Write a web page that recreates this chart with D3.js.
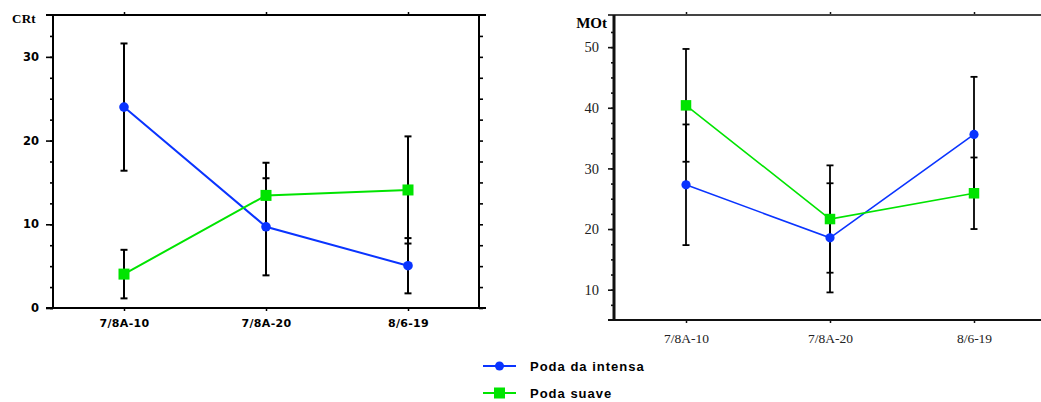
<!DOCTYPE html>
<html>
<head>
<meta charset="utf-8">
<script src="https://cdn.jsdelivr.net/npm/d3@7"></script>
<style>
  html, body { margin: 0; padding: 0; background: #fff; }
  svg { display: block; }
</style>
</head>
<body>
<svg id="chart" width="1041" height="402"></svg>
<script>
// Sampling dates shared by both panels
const categories = ["7/8A-10", "7/8A-20", "8/6-19"];

// CRt panel: means and error half-widths
const crtIntensa = [24.0, 9.7, 5.05];
const crtIntensaErr = [7.6, 5.8, 3.3];
const crtSuave = [4.05, 13.45, 14.1];
const crtSuaveErr = [2.9, 3.9, 6.4];

// MOt panel: means and error half-widths
const motIntensa = [27.3, 18.55, 35.6];
const motIntensaErr = [9.95, 9.0, 9.5];
const motSuave = [40.4, 21.65, 25.9];
const motSuaveErr = [9.3, 8.85, 5.9];

// Axis ticks
const crtMajor = [0, 10, 20, 30];
const crtMinor = d3.range(0, 35, 2.5);
const motMajor = [10, 20, 30, 40, 50];
const motMinor = d3.range(7.5, 55, 2.5);

const seriesNames = ["Poda da intensa", "Poda suave"];
const BLUE = "#0a34ff";
const GREEN = "#00e400";

const svg = d3.select("#chart");

function drawPanel(opt) {
  const g = svg.append("g");
  const x = d3.scalePoint().domain(categories).range([opt.x0, opt.x1]).padding(0.5);
  const y = d3.scaleLinear().domain(opt.yDomain).range([opt.y0, opt.y1]);

  // minor ticks on the left axis
  g.append("g")
    .attr("transform", `translate(${opt.x0},0)`)
    .call(d3.axisLeft(y).tickValues(opt.minor).tickSize(opt.minorLen).tickFormat(""))
    .call(s => s.select(".domain").remove())
    .call(s => s.selectAll("line").attr("stroke", opt.axisColor).attr("stroke-width", opt.tickWidth));

  // major ticks with labels
  g.append("g")
    .attr("transform", `translate(${opt.x0},0)`)
    .call(d3.axisLeft(y).tickValues(opt.major).tickSize(opt.majorLen).tickPadding(opt.yPad).tickFormat(d3.format("d")))
    .call(s => s.select(".domain").remove())
    .call(s => s.selectAll("line").attr("stroke", opt.axisColor).attr("stroke-width", opt.tickWidth))
    .call(s => s.selectAll("text").attr("fill", opt.textColor)
      .style("font", opt.yFont));

  // right-hand ticks (outward)
  if (opt.rightTicks) {
    g.append("g")
      .attr("transform", `translate(${opt.x1},0)`)
      .call(d3.axisRight(y).tickValues(opt.minor).tickSize(4).tickFormat(""))
      .call(s => s.select(".domain").remove())
      .call(s => s.selectAll("line").attr("stroke", opt.axisColor).attr("stroke-width", opt.tickWidth));
  }

  // bottom axis with category labels
  g.append("g")
    .attr("transform", `translate(0,${opt.y0})`)
    .call(d3.axisBottom(x).tickSize(3).tickPadding(opt.xPad))
    .call(s => s.select(".domain").remove())
    .call(s => s.selectAll("line").attr("stroke", opt.axisColor).attr("stroke-width", 1.5))
    .call(s => s.selectAll("text").attr("fill", opt.textColor)
      .style("font", opt.xFont).style("letter-spacing", opt.xSpacing || "0px"));

  // top axis ticks
  g.append("g")
    .attr("transform", `translate(0,${opt.y1})`)
    .call(d3.axisTop(x).tickSize(3).tickFormat(""))
    .call(s => s.select(".domain").remove())
    .call(s => s.selectAll("line").attr("stroke", opt.axisColor).attr("stroke-width", 1.5));

  // frame lines
  const frame = g.append("g").attr("fill", "none");
  frame.append("line").attr("x1", opt.x0 - opt.overhang).attr("x2", opt.x1 + opt.overhang)
    .attr("y1", opt.y1).attr("y2", opt.y1).attr("stroke", opt.frameColor).attr("stroke-width", opt.frameWidth);
  frame.append("line").attr("x1", opt.x0 - opt.overhang).attr("x2", opt.x1 + opt.overhang)
    .attr("y1", opt.y0).attr("y2", opt.y0).attr("stroke", opt.axisColor).attr("stroke-width", opt.frameWidth);
  frame.append("line").attr("x1", opt.x0).attr("x2", opt.x0)
    .attr("y1", opt.y1).attr("y2", opt.y0).attr("stroke", opt.axisColor).attr("stroke-width", opt.leftWidth);
  frame.append("line").attr("x1", opt.x1).attr("x2", opt.x1)
    .attr("y1", opt.y1).attr("y2", opt.y0).attr("stroke", opt.axisColor).attr("stroke-width", opt.frameWidth);

  // axis title
  g.append("text").attr("x", opt.titleX).attr("y", opt.titleY)
    .attr("text-anchor", "end")
    .style("font", opt.titleFont).style("letter-spacing", opt.titleSpacing || "0px")
    .attr("fill", "#000").text(opt.title);

  const series = [
    { vals: opt.a, err: opt.aErr, color: BLUE, shape: "circle" },
    { vals: opt.b, err: opt.bErr, color: GREEN, shape: "square" }
  ];

  // error bars
  series.forEach(s => {
    const eb = g.append("g").attr("stroke", "#000").attr("stroke-width", opt.errWidth);
    s.vals.forEach((v, i) => {
      const cx = x(categories[i]);
      const yt = y(v + s.err[i]), yb = y(v - s.err[i]);
      eb.append("line").attr("x1", cx).attr("x2", cx).attr("y1", yt).attr("y2", yb);
      [yt, yb].forEach(yy => eb.append("line")
        .attr("x1", cx - opt.cap).attr("x2", cx + opt.cap).attr("y1", yy).attr("y2", yy));
    });
  });

  // series lines
  const line = d3.line().x((d, i) => x(categories[i])).y(d => y(d));
  series.forEach(s => {
    g.append("path").datum(s.vals).attr("d", line)
      .attr("fill", "none").attr("stroke", s.color).attr("stroke-width", opt.lineWidth);
  });

  // markers
  series.forEach(s => {
    s.vals.forEach((v, i) => {
      const cx = x(categories[i]), cy = y(v);
      if (s.shape === "circle") {
        g.append("circle").attr("cx", cx).attr("cy", cy).attr("r", opt.r).attr("fill", s.color);
      } else {
        g.append("rect").attr("x", cx - opt.sq / 2).attr("y", cy - opt.sq / 2)
          .attr("width", opt.sq).attr("height", opt.sq).attr("fill", s.color);
      }
    });
  });
}

// CRt panel
drawPanel({
  x0: 53, x1: 479, y0: 308, y1: 15, yDomain: [0, 35],
  major: crtMajor, minor: crtMinor, majorLen: 7, minorLen: 3, yPad: 7,
  rightTicks: true, overhang: 7,
  axisColor: "#000", frameColor: "#000", textColor: "#000",
  tickWidth: 1.6, frameWidth: 2, leftWidth: 2,
  yFont: "bold 11.5px 'DejaVu Sans'", xFont: "bold 11px 'DejaVu Sans'", xPad: 8, xSpacing: "0.3px",
  title: "CRt", titleX: 36, titleY: 23, titleFont: "bold 13px 'Liberation Serif'", titleSpacing: "0.3px",
  a: crtIntensa, aErr: crtIntensaErr, b: crtSuave, bErr: crtSuaveErr,
  errWidth: 2, cap: 3.5, lineWidth: 2, r: 4.8, sq: 11
});

// MOt panel
drawPanel({
  x0: 614, x1: 1046, y0: 320, y1: 15, yDomain: [5, 55.3],
  major: motMajor, minor: motMinor, majorLen: 6, minorLen: 3, yPad: 9,
  rightTicks: false, overhang: 6,
  axisColor: "#111", frameColor: "#444", textColor: "#222",
  tickWidth: 1.6, frameWidth: 2, leftWidth: 3,
  yFont: "14.5px 'Liberation Serif'", xFont: "13.5px 'Liberation Serif'", xPad: 10,
  title: "MOt", titleX: 607, titleY: 28, titleFont: "bold 15px 'Liberation Serif'",
  a: motIntensa, aErr: motIntensaErr, b: motSuave, bErr: motSuaveErr,
  errWidth: 1.8, cap: 3.5, lineWidth: 1.6, r: 4.6, sq: 10.5
});

// Legend
const legend = svg.append("g").attr("transform", "translate(483,0)");
const legendY = [366, 393];
seriesNames.forEach((name, i) => {
  const color = i === 0 ? BLUE : GREEN;
  const ly = legendY[i];
  legend.append("line").attr("x1", 0).attr("x2", 33).attr("y1", ly).attr("y2", ly)
    .attr("stroke", color).attr("stroke-width", 2);
  if (i === 0) {
    legend.append("circle").attr("cx", 16.5).attr("cy", ly).attr("r", 4.5).attr("fill", color);
  } else {
    legend.append("rect").attr("x", 11).attr("y", ly - 5.5).attr("width", 11).attr("height", 11).attr("fill", color);
  }
  legend.append("text").attr("x", 47).attr("y", ly + 5)
    .style("font", "bold 13px 'Liberation Sans'").style("letter-spacing", "1px")
    .attr("fill", "#000").text(name);
});
</script>
</body>
</html>
